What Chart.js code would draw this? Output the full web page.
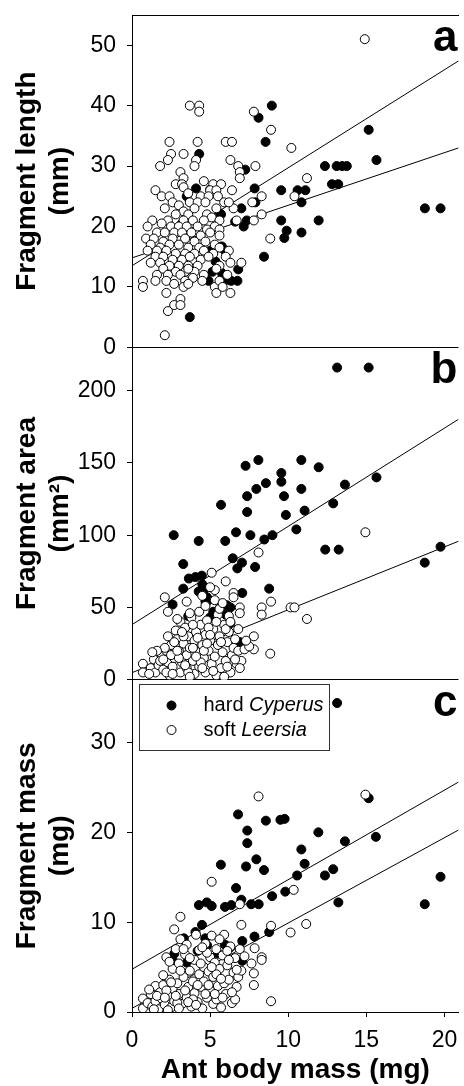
<!DOCTYPE html>
<html>
<head>
<meta charset="utf-8">
<script src="https://cdn.jsdelivr.net/npm/chart.js@4.4.1/dist/chart.umd.min.js"></script>
<style>
  html, body { margin: 0; padding: 0; background: #fff; overflow: hidden; }
  #wrap { width: 464px; height: 1086px; }
</style>
</head>
<body>
<div id="wrap"><canvas id="grafico" width="464" height="1086"></canvas></div>
<script>
// eixo x (massa da formiga, mg)
const X_MAX = 20.9;
const X_TICKS = [0, 5, 10, 15, 20];

// painel a: comprimento do fragmento (mm)
const A_TICKS = [0, 10, 20, 30, 40, 50];
const A_HARD = [[8.95,40],[8.1,38],[8.55,34],[15.15,36],[15.65,31],[12.35,30],[13.1,30],[13.45,30],[13.75,30],[12.8,27],[13.2,27],[18.75,23],[19.75,23],[9.55,26],[10.6,26],[11.1,26],[10.85,24],[9.55,21],[11.95,21],[9.9,19.3],[9.75,18.1],[10.85,19],[8.45,15],[3.7,5],[4.3,32],[7.25,29.4],[7.85,26.3],[7.9,24],[5.7,22],[7.0,23],[7.15,20],[7.35,21],[6.6,20.8],[4.1,26.3],[5.0,26.1],[3.2,20.5],[5.6,22.2],[5.0,16],[5.35,14.2],[5.15,12.5],[4.7,11.7],[6.1,11.2],[6.75,11],[6.35,11],[5.75,16.7],[6.8,12.9],[5.95,16],[5.75,12.3],[4.9,11],[4.4,24.5],[3.5,25]];
const A_SOFT = [[3.7,40],[4.3,40],[4.3,39],[2.4,34],[4.2,34],[6.0,34],[6.4,34],[2.5,32],[3.3,32],[2.3,31],[1.8,30],[4.1,31],[4.0,30],[6.3,31],[6.8,30],[7.9,30],[6.9,29],[3.1,29],[3.3,28],[6.9,28],[7.8,39],[8.9,36],[10.2,33],[14.9,51],[11.2,28],[10.4,25],[8.3,25],[8.3,22],[7.8,21],[7.7,24],[6.4,26],[6.5,23],[6.7,21],[7.0,14],[6.3,9],[5.3,10],[5.4,9],[8.85,18],
  [2.8,27],[3.2,27],[3.3,26.5],[5.2,27],[5.7,27],[4.6,27.5],[1.5,26],[5.0,26],[5.4,26],[3.6,25.5],[4.4,25],
  [1.9,25],[2.4,25],[3.7,24],[4.9,25],[5.5,25],[5.9,24],[6.2,24],[2.6,24],[3.0,23.5],[4.2,24],[4.7,24],[5.4,23],[3.3,22.5],
  [2.1,23],[2.8,22],[3.6,22],[4.0,23],[4.8,22],[5.1,21.5],[5.6,21],[2.3,21],[3.9,21],[4.6,21],[3.3,21],[5.3,20],
  [1.3,21],[1.9,20.5],[2.5,20],[3.0,20],[3.5,20],[4.2,20],[4.8,19.5],[5.6,19.5],[1.0,20],
  [1.6,19],[2.1,19],[2.7,19],[3.2,19],[3.8,19],[4.4,18.5],[5.0,19],[5.6,18.5],[0.9,18],
  [1.4,18],[2.0,17.5],[2.6,18],[3.4,18],[4.0,17.5],[4.7,17.5],[5.3,17],
  [1.2,17],[1.8,16.5],[2.4,17],[3.0,17],[3.6,16.5],[4.3,16.5],[5.6,16.5],
  [1.0,16],[1.6,16],[2.2,16],[2.8,15.5],[3.4,15.5],[4.0,15.5],[4.6,16],[5.2,15.5],[6.2,16],
  [1.5,15],[2.0,15],[2.6,14.5],[3.2,14.5],[3.7,15],[4.4,14.5],[4.9,15],[6.0,15],[6.3,14],
  [1.2,14],[1.8,14],[2.4,13.5],[3.0,13.5],[3.6,13.5],[4.2,13.5],[5.6,13.5],[5.4,13],
  [2.0,13],[2.8,12.5],[3.4,12.5],[4.0,12.5],[4.6,12],[3.6,13],
  [1.6,12],[2.3,12],[3.1,12],[3.9,11.5],[4.5,11],[5.6,11],[6.1,12],
  [1.5,11],[2.2,11],[0.7,11],[0.7,10],[3.4,11],[2.7,10.5],[3.3,10],[3.6,10.5],[5.8,10],
  [2.2,9],[3.1,8],[2.7,7],[3.1,7],[2.3,6],[2.1,2]];
const A_LINE_1 = [13.5, 47.4];
const A_LINE_2 = [14.8, 33.0];

// painel b: area do fragmento (mm2)
const B_TICKS = [0, 50, 100, 150, 200];
const B_HARD = [[13.13,216],[15.15,216],[7.27,148],[8.09,152],[10.84,152],[11.95,147],[9.56,143],[9.56,137],[8.57,136],[7.96,132],[10.84,132],[13.63,135],[15.65,140],[7.37,127],[9.73,127],[5.7,121],[12.88,122],[7.37,116],[9.85,114],[11.05,117],[10.52,104],[2.67,100],[4.27,96],[5.97,96],[6.66,102],[7.58,100],[8.47,97],[8.99,100],[12.37,90],[13.23,90],[19.75,92],[18.74,81],[6.45,84],[7.04,81],[6.74,77],[7.88,78],[3.28,80],[7.06,60],[8.78,63],[3.28,63],[3.64,70],[4.06,71],[4.47,72],[4.27,61],[4.5,66],[4.9,55],[4.6,62],[4.8,57],[4.7,54],[2.6,52],[5.2,47],[5.65,50],[6.07,51.5],[6.3,50],[5.0,43],[6.3,39],[6.9,26],[6.0,45],[3.6,44]];
const B_SOFT = [[5.1,74],[8.1,88],[14.94,102],[11.2,42],[10.15,50],[10.4,50],[8.85,18],[8.9,54],[8.3,50],[8.3,45],[7.8,30],[7.8,21],[6.9,50],[6.9,46],[6.5,60],[6.5,57],[5.3,62],[5.3,55],[3.5,54],[2.1,57],[2.3,47],
  [0.7,11],[0.7,5],[1.2,8],[1.4,14],[1.5,5],[1.7,10],[1.9,17],[2.0,7],[2.2,20],[2.3,12],[2.4,3],[2.5,24],[2.6,9],[2.7,15],[2.8,34],[2.9,28],[3.0,20],[3.1,5],[3.1,40],[3.2,12],[3.3,25],[3.4,36],[3.5,17],[3.5,8],[3.6,30],[3.7,22],[3.8,43],[3.9,13],[4.0,27],[4.0,4],[4.1,33],[4.2,19],[4.3,9],[4.4,38],[4.5,24],[4.6,15],[4.7,31],[4.7,5],[4.8,41],[4.9,20],[5.0,27],[5.1,11],[5.2,35],[5.3,16],[5.4,3],[5.5,24],[5.5,45],[5.6,30],[5.7,8],[5.8,19],[5.9,38],[6.0,13],[6.1,26],[6.2,33],[6.3,5],[6.4,17],[6.5,22],[6.6,28],[6.7,11],[6.8,20],[7.0,13],[7.2,21],
  [2.1,22],[2.5,17],[1.8,13],[2.2,5],[3.0,15],[3.6,5],[4.2,29],[4.4,12],[2.9,20],[3.3,30],[4.9,36],[5.7,26],[6.1,9],[1.6,20],[2.7,26],[3.9,22],[4.6,20],[5.2,6],[3.4,10],[2.3,30],[4.1,16],[5.0,31],[6.6,14],[1.1,4],[1.3,19],[2.0,14],[2.6,4],[3.7,2],[4.5,8],[5.9,2],[6.9,8],[3.2,33],[4.8,25],[5.4,40],[6.2,44],[6.0,35],[7.5,23],[7.3,27],[6.8,35],[5.6,49],[4.3,47],[3.7,46],[2.9,42],[6.3,40],[5.8,53],[4.7,51],[5.0,64],[6.0,68],[4.5,58],[3.9,38]];
const B_LINE_1 = [38.1, 180.2];
const B_LINE_2 = [4.85, 95.8];

// painel c: massa do fragmento (mg)
const C_TICKS = [0, 10, 20, 30];
const C_HARD = [[13.13,34.4],[15.15,23.8],[6.79,22.0],[8.57,21.3],[9.5,21.4],[9.77,21.5],[7.38,20.2],[7.38,18.8],[11.93,20.0],[13.63,19.0],[15.61,19.5],[10.84,18.1],[5.69,16.4],[7.3,16.2],[7.96,17.0],[8.45,15.8],[11.05,16.5],[10.57,15.2],[12.35,15.2],[12.88,15.9],[19.75,15.05],[18.74,12.0],[13.21,12.2],[9.81,13.4],[8.97,12.9],[6.66,13.8],[4.28,11.9],[4.79,12.2],[5.1,11.8],[5.95,11.7],[6.36,11.9],[7.0,12.5],[7.63,12.0],[8.11,12.0],[7.84,8.4],[8.78,8.9],[7.06,7.9],[7.06,5.7],[4.48,9.7],[4.06,8.9],[4.69,8.2],[5.95,7.5],[2.58,5.8],[3.32,8.2],[2.71,6.5],[4.81,7.4],[3.5,5.5],[4.2,6.8],[5.5,6.5],[6.3,7.2]];
const C_SOFT = [[8.1,24],[14.94,24.2],[5.1,14.5],[10.35,13.6],[6.9,12],[3.1,10.6],[7.0,9.7],[8.9,9.6],[11.15,9.8],[10.15,8.85],[8.9,1.2],[2.7,9.2],[7.8,4.3],[7.8,3.0],[8.3,6.1],[8.3,5.8],[7.85,7.1],[7.65,5.4],
  [0.7,0.4],[0.7,1.5],[1.0,1.0],[1.2,2.0],[1.3,0.6],[1.5,2.9],[1.5,1.2],[1.7,0.3],[1.8,2.2],[1.9,1.5],[2.0,3.0],[2.1,0.8],[2.2,6.1],[2.3,1.8],[2.4,3.6],[2.5,0.5],[2.6,2.6],[2.6,4.8],[2.7,1.2],[2.8,7.0],[2.9,3.2],[3.0,2.0],[3.0,5.4],[3.1,8.1],[3.2,0.9],[3.3,3.9],[3.4,6.4],[3.5,1.6],[3.5,7.5],[3.6,2.8],[3.7,4.6],[3.8,0.6],[3.9,3.4],[4.0,5.8],[4.0,2.1],[4.1,8.6],[4.2,1.1],[4.3,4.2],[4.3,6.9],[4.4,2.8],[4.5,0.4],[4.6,5.0],[4.6,3.4],[4.7,7.6],[4.8,1.6],[4.9,4.5],[5.0,6.1],[5.0,2.4],[5.1,8.5],[5.2,0.9],[5.2,3.9],[5.3,5.5],[5.4,1.4],[5.4,7.0],[5.5,2.9],[5.6,4.8],[5.7,0.5],[5.8,6.3],[5.9,3.2],[5.9,8.6],[6.0,2.0],[6.1,5.2],[6.2,3.6],[6.3,7.3],[6.4,1.0],[6.5,4.4],[6.6,6.0],[6.7,2.8],[6.8,3.9],[6.9,7.0],[7.0,4.6],[7.2,6.2],
  [1.6,1.8],[2.2,2.4],[2.9,1.0],[3.4,2.4],[3.9,1.4],[4.4,5.4],[4.9,3.0],[5.4,4.2],[5.8,1.6],[6.6,1.4],[1.1,2.5],[2.0,4.1],[2.5,3.3],[3.1,4.6],[3.7,6.0],[4.2,3.0],[4.8,6.6],[5.3,2.0],[5.7,3.7],[6.2,5.8],[6.7,4.7],[2.4,5.6],[3.3,7.0],[4.5,7.2],[5.6,8.1],[6.1,6.8],[2.8,1.8],[3.6,1.1],[4.7,2.0],[5.1,5.0],[6.4,2.2],[1.4,0.3],[2.3,0.2],[3.0,0.4],[2.1,1.6],[4.1,0.8]];
const C_LINE_1 = [4.76, 25.6];
const C_LINE_2 = [0.41, 20.26];

// extremos x das retas de regressao
const LINE_X = [0, X_MAX];

const SERIES_WORD = ['hard', 'soft'];
const SERIES_GENUS = ['Cyperus', 'Leersia'];
const SERIES_FILL = ['#000000', '#ffffff'];
const PANEL_LETTERS = ['a', 'b', 'c'];
const PANEL_AXES = ['ya', 'yb', 'yc'];

Chart.defaults.font.family = '"Liberation Sans", Arial, Helvetica, sans-serif';
Chart.defaults.color = '#000';

const paineis = [
  { eixo: 'ya', hard: A_HARD, soft: A_SOFT, retas: [A_LINE_1, A_LINE_2] },
  { eixo: 'yb', hard: B_HARD, soft: B_SOFT, retas: [B_LINE_1, B_LINE_2] },
  { eixo: 'yc', hard: C_HARD, soft: C_SOFT, retas: [C_LINE_1, C_LINE_2] }
];

const pontos = arr => arr.map(p => ({ x: p[0], y: p[1] }));

const datasets = [];
paineis.forEach(p => {
  [p.hard, p.soft].forEach((serie, i) => {
    datasets.push({
      label: SERIES_WORD[i] + ' ' + SERIES_GENUS[i],
      data: pontos(serie),
      xAxisID: 'x', yAxisID: p.eixo,
      pointRadius: 4.5, pointBorderWidth: 1,
      pointBorderColor: '#000', pointBackgroundColor: SERIES_FILL[i],
      order: i === 0 ? 2 : 1
    });
  });
  p.retas.forEach(r => {
    datasets.push({
      data: LINE_X.map((x, k) => ({ x: x, y: r[k] })),
      xAxisID: 'x', yAxisID: p.eixo,
      showLine: true, pointRadius: 0, borderColor: '#000', borderWidth: 1,
      order: 3
    });
  });
});

function eixoY(min, max, ticks, titulo) {
  return {
    type: 'linear', position: 'left', stack: 'paineis', stackWeight: 1,
    min: min, max: max,
    afterBuildTicks: s => { s.ticks = ticks.map(v => ({ value: v })); },
    afterFit: s => { s.width = 132; s.paddingTop = 0; s.paddingBottom = 0; },
    ticks: { color: '#000', font: { size: 23 }, padding: 11, autoSkip: false },
    grid: {
      drawOnChartArea: true, drawTicks: true, tickLength: 5, tickColor: '#000', lineWidth: 1,
      color: c => (c.tick && c.tick.value === 0) ? '#000' : 'rgba(0,0,0,0)'
    },
    border: { display: true, color: '#000', width: 1 },
    title: {
      display: true, text: titulo, color: '#000',
      font: { size: 28, weight: 'bold', lineHeight: 1.18 },
      padding: { top: 11, bottom: 0 }
    }
  };
}

const letras = {
  id: 'letras',
  afterDraw(chart) {
    const ctx = chart.ctx;
    ctx.save();
    ctx.font = 'bold 44px "Liberation Sans", Arial, sans-serif';
    ctx.fillStyle = '#000';
    ctx.textAlign = 'right';
    ctx.textBaseline = 'alphabetic';
    PANEL_AXES.forEach((id, i) => {
      ctx.fillText(PANEL_LETTERS[i], chart.chartArea.right - 1, chart.scales[id].top + 36);
    });
    ctx.restore();
  }
};

const legenda = {
  id: 'legenda',
  afterDraw(chart) {
    const ctx = chart.ctx;
    const yc = chart.scales.yc;
    const x0 = Math.round(chart.chartArea.left + 7) + 0.5;
    const y0 = Math.round(yc.top + 4) + 0.5;
    ctx.save();
    ctx.fillStyle = '#fff';
    ctx.fillRect(x0, y0, 190, 66);
    ctx.strokeStyle = '#333';
    ctx.lineWidth = 1;
    ctx.strokeRect(x0, y0, 190, 66);
    SERIES_WORD.forEach((w, i) => {
      const cy = y0 + 21 + i * 24.5;
      ctx.beginPath();
      ctx.arc(x0 + 32, cy, 4.5, 0, Math.PI * 2);
      ctx.fillStyle = SERIES_FILL[i];
      ctx.fill();
      ctx.strokeStyle = '#000';
      ctx.stroke();
      ctx.fillStyle = '#000';
      ctx.textBaseline = 'middle';
      ctx.textAlign = 'left';
      ctx.font = '20px "Liberation Sans", Arial, sans-serif';
      ctx.fillText(w + ' ', x0 + 64, cy);
      const larg = ctx.measureText(w + ' ').width;
      ctx.font = 'italic 20px "Liberation Sans", Arial, sans-serif';
      ctx.fillText(SERIES_GENUS[i], x0 + 64 + larg, cy);
    });
    ctx.restore();
  }
};

new Chart(document.getElementById('grafico'), {
  type: 'scatter',
  data: { datasets: datasets },
  plugins: [letras, legenda],
  options: {
    responsive: false,
    animation: false,
    events: [],
    layout: { padding: { top: 15, left: 0, right: 0, bottom: 0 } },
    plugins: { legend: { display: false }, tooltip: { enabled: false } },
    scales: {
      x: {
        type: 'linear', position: 'bottom', min: 0, max: X_MAX,
        afterBuildTicks: s => { s.ticks = X_TICKS.map(v => ({ value: v })); },
        afterFit: s => { s.height = 74; s.paddingLeft = 0; s.paddingRight = 0; },
        ticks: { color: '#000', font: { size: 23 }, padding: 10, autoSkip: false, maxRotation: 0 },
        grid: { drawOnChartArea: false, drawTicks: true, tickLength: 5, color: '#000' },
        border: { display: true, color: '#000', width: 1 },
        title: {
          display: true, text: 'Ant body mass (mg)', color: '#000',
          font: { size: 28, weight: 'bold', lineHeight: 1.15 }, padding: 0
        }
      },
      xTop: {
        type: 'linear', position: 'top', min: 0, max: X_MAX,
        ticks: { display: false },
        grid: { display: false, drawTicks: false },
        border: { display: true, color: '#000', width: 1 },
        afterFit: s => { s.height = 0; s.paddingLeft = 0; s.paddingRight = 0; }
      },
      yc: eixoY(0, 37, C_TICKS, ['Fragment mass', '(mg)']),
      yb: eixoY(0, 230, B_TICKS, ['Fragment area', '(mm²)']),
      ya: eixoY(0, 55, A_TICKS, ['Fragment length', '(mm)'])
    }
  }
});
</script>
</body>
</html>
